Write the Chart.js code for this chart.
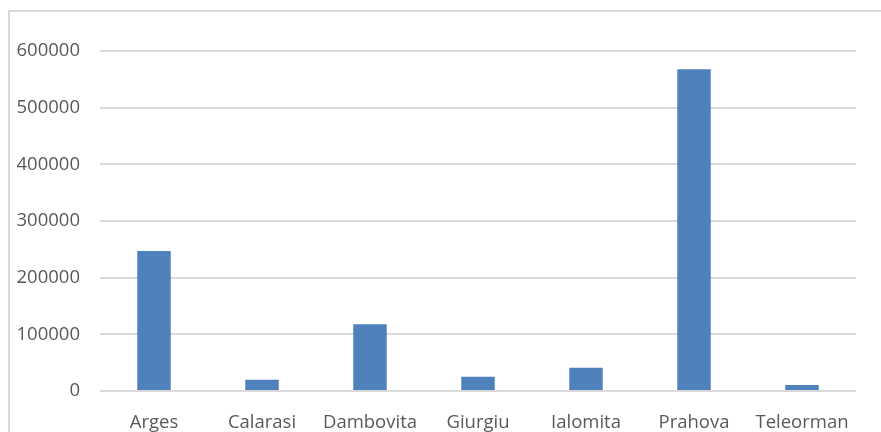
<!DOCTYPE html>
<html>
<head>
<meta charset="utf-8">
<script src="https://cdn.jsdelivr.net/npm/chart.js@4"></script>
<style>
  body { margin: 0; background: #fff; }
  #wrap { position: relative; width: 881px; height: 432px; overflow: hidden; }
  #frame { position: absolute; left: 8px; top: 10px; width: 900px; height: 440px;
           border-left: 2px solid #d9d9d9; border-top: 2px solid #d9d9d9; }
  canvas { position: absolute; left: 0; top: 0; }
</style>
</head>
<body>
<div id="wrap">
  <div id="frame"></div>
  <canvas id="chart" width="881" height="432"></canvas>
</div>
<script>
// judete si valori
var judete = ['Arges', 'Calarasi', 'Dambovita', 'Giurgiu', 'Ialomita', 'Prahova', 'Teleorman'];
var valori = [247000, 20000, 118000, 25000, 41000, 568000, 10500];
var yTicks = [0, 100000, 200000, 300000, 400000, 500000, 600000];

window.onload = function() {
    var ctx = document.getElementById('chart').getContext('2d');
    var chart = new Chart(ctx, {
        type: 'bar',
        data: {
            labels: judete,
            datasets: [{
                data: valori,
                backgroundColor: '#4f81bd',
                categoryPercentage: 1,
                barPercentage: 0.31
            }]
        },
        options: {
            responsive: false,
            animation: false,
            layout: { padding: { top: 51, right: 25, left: 0, bottom: 0 } },
            plugins: { legend: { display: false }, tooltip: { enabled: false } },
            scales: {
                x: {
                    grid: { display: false },
                    border: { display: false },
                    ticks: { color: '#595959', font: { family: 'Open Sans', size: 18.5 }, padding: 13, maxRotation: 0 },
                    afterFit: function(s) { s.height = 41; }
                },
                y: {
                    min: 0, max: 600000,
                    afterBuildTicks: function(s) { s.ticks = yTicks.map(function(v) { return { value: v }; }); },
                    grid: { color: '#d9d9d9', lineWidth: 2, drawTicks: false },
                    border: { display: false },
                    ticks: {
                        color: '#595959', font: { family: 'Open Sans', size: 18.5 }, padding: 20,
                        callback: function(v) { return String(v); }
                    },
                    afterFit: function(s) { s.width = 100; }
                }
            }
        }
    });
};
</script>
</body>
</html>
